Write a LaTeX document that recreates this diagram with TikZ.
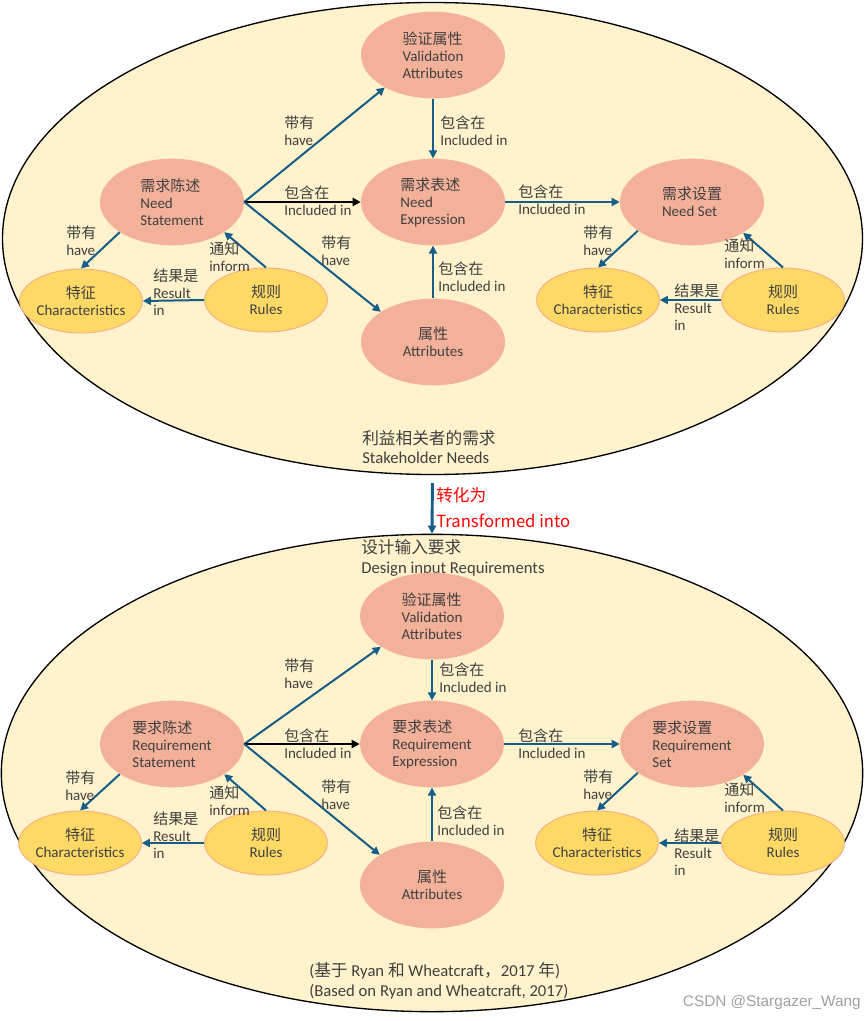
\documentclass[tikz,border=0pt]{standalone}
\usepackage{xcolor}
\usepackage{fontspec}
\setmainfont{Carlito}
\newfontfamily\zhfont{Noto Sans CJK SC}
\newfontfamily\markfont{Liberation Sans}
\newcommand\zh[1]{{\zhfont #1}}
\usepackage{tikz}
\usetikzlibrary{arrows.meta,shapes.geometric}

\definecolor{bgyellow}{RGB}{255,242,204}
\definecolor{needpink}{RGB}{244,177,154}
\definecolor{featyellow}{RGB}{255,217,102}
\definecolor{featedge}{RGB}{244,177,131}
\definecolor{linkblue}{RGB}{22,94,135}
\definecolor{txtgray}{RGB}{64,64,64}

\begin{document}
\begin{tikzpicture}[x=0.75pt,y=0.75pt,yscale=-1,xscale=1,
    bigell/.style={ellipse,draw=black,line width=1pt,fill=bgyellow,inner sep=0pt},
    needell/.style={ellipse,fill=needpink,inner sep=0pt,minimum width=108pt,minimum height=65pt,align=left,text=txtgray,font=\fontsize{11.25}{12.75}\selectfont},
    featell/.style={ellipse,draw=featedge,line width=0.75pt,fill=featyellow,inner xsep=-3pt,inner ysep=0pt,minimum width=92pt,minimum height=48pt,align=center,text=txtgray,font=\fontsize{11.25}{12.75}\selectfont},
    link/.style={draw=linkblue,line width=1.5pt,-{Triangle[length=6pt,width=6pt]}},
    linkbold/.style={draw=black,line width=2.2pt,-{Triangle[length=6pt,width=6pt]}},
    lbl/.style={anchor=west,inner sep=0.75pt,align=left,text=txtgray,font=\fontsize{11.25}{12.75}\selectfont},
    bigtxt/.style={anchor=west,inner sep=0.75pt,align=left,text=txtgray,font=\fontsize{12.5}{14.6}\selectfont}]

    \useasboundingbox (0,0) rectangle (865,1021);

    % outer ellipses
    \node[bigell,minimum width=645pt,minimum height=354pt] (sh) at (432.5,238.5) {};
    \node[bigell,minimum width=646pt,minimum height=358pt] (di) at (432,773) {};

    % stakeholder needs
    \node[needell] (va1) at (433,55) {\zh{验证属性}\\Validation\\Attributes};
    \node[needell] (ns1) at (172,202) {\zh{需求陈述}\\Need\\Statement};
    \node[needell] (ne1) at (433,202) {\zh{需求表述}\\Need\\Expression};
    \node[needell] (nset1) at (692,202) {\zh{需求设置}\\Need Set};
    \node[needell,align=center] (at1) at (433,342) {\zh{属性}\\Attributes};
    \node[featell] (cl1) at (81,301) {\zh{特征}\\Characteristics};
    \node[featell] (rl1) at (266,300) {\zh{规则}\\Rules};
    \node[featell] (cr1) at (598,300) {\zh{特征}\\Characteristics};
    \node[featell] (rr1) at (783,300) {\zh{规则}\\Rules};

    \draw[link] (ns1.east) -- (va1.-146);
    \draw[linkbold] (ns1.east) -- (ne1.west);
    \draw[link] (ns1.east) -- (at1.150);
    \draw[link] (va1.south) -- (ne1.north);
    \draw[link] (at1.north) -- (ne1.south);
    \draw[link] (ne1.east) -- (nset1.west);
    \draw[link] (ns1.-150) -- (cl1.north);
    \draw[link] (rl1.north) -- (ns1.-30);
    \draw[link] (rl1.west) -- (cl1.east);
    \draw[link] (nset1.-152) -- (cr1.north);
    \draw[link] (rr1.north) -- (nset1.-31);
    \draw[link] (rr1.west) -- (cr1.east);

    \node[lbl] (hv1) at (283,131) {\zh{带有}\\have};
    \node[lbl] (inc1) at (439,131) {\zh{包含在}\\Included in};
    \node[lbl] (inc2) at (283,201) {\zh{包含在}\\Included in};
    \node[lbl] (hv2) at (320,251) {\zh{带有}\\have};
    \node[lbl] (inc3) at (437,277) {\zh{包含在}\\Included in};
    \node[lbl] (inc4) at (517,200) {\zh{包含在}\\Included in};
    \node[lbl] (hv3) at (65,241) {\zh{带有}\\have};
    \node[lbl] (inf1) at (208,257) {\zh{通知}\\inform};
    \node[lbl] (res1) at (152,292) {\zh{结果是}\\Result\\in};
    \node[lbl] (hv4) at (582,241) {\zh{带有}\\have};
    \node[lbl] (inf2) at (723,254) {\zh{通知}\\inform};
    \node[lbl] (res2) at (673,307) {\zh{结果是}\\Result\\in};

    \node[bigtxt] (shtxt) at (361,447) {\zh{利益相关者的需求}\\Stakeholder Needs};

    % transformation
    \draw[draw=linkblue,line width=2.2pt,-{Triangle[length=6pt,width=6pt]},shorten <=6pt] (sh.south) -- (di.north);
    \node[anchor=west,inner sep=0.75pt,align=left,text=red,font=\zhfont\fontsize{12.5}{19.5}\selectfont] (trtxt) at (435,508) {转化为\\Transformed into};

    % design input requirements
    \node[bigtxt] (ditxt) at (360,558) {\zh{设计输入要求}\\Design input Requirements};

    \node[needell] (va2) at (432,616) {\zh{验证属性}\\Validation\\Attributes};
    \node[needell] (ns2) at (172,744) {\zh{要求陈述}\\Requirement\\Statement};
    \node[needell] (ne2) at (432,744) {\zh{要求表述}\\Requirement\\Expression};
    \node[needell] (nset2) at (692,744) {\zh{要求设置}\\Requirement\\Set};
    \node[needell,align=center] (at2) at (432,885) {\zh{属性}\\Attributes};
    \node[featell] (cl2) at (80,843) {\zh{特征}\\Characteristics};
    \node[featell] (rl2) at (266,843) {\zh{规则}\\Rules};
    \node[featell] (cr2) at (597,843) {\zh{特征}\\Characteristics};
    \node[featell] (rr2) at (783,843) {\zh{规则}\\Rules};

    \draw[link] (ns2.east) -- (va2.-149);
    \draw[linkbold] (ns2.east) -- (ne2.west);
    \draw[link] (ns2.east) -- (at2.150);
    \draw[link] (va2.south) -- (ne2.north);
    \draw[link] (at2.north) -- (ne2.south);
    \draw[link] (ne2.east) -- (nset2.west);
    \draw[link] (ns2.-150) -- (cl2.north);
    \draw[link] (rl2.north) -- (ns2.-30);
    \draw[link] (rl2.west) -- (cl2.east);
    \draw[link] (nset2.-152) -- (cr2.north);
    \draw[link] (rr2.north) -- (nset2.-31);
    \draw[link] (rr2.west) -- (cr2.east);

    \node[lbl] (hv5) at (283,674) {\zh{带有}\\have};
    \node[lbl] (inc5) at (438,678) {\zh{包含在}\\Included in};
    \node[lbl] (inc6) at (283,744) {\zh{包含在}\\Included in};
    \node[lbl] (hv6) at (320,795) {\zh{带有}\\have};
    \node[lbl] (inc7) at (436,821) {\zh{包含在}\\Included in};
    \node[lbl] (inc8) at (517,744) {\zh{包含在}\\Included in};
    \node[lbl] (hv7) at (64,786) {\zh{带有}\\have};
    \node[lbl] (inf3) at (208,801) {\zh{通知}\\inform};
    \node[lbl] (res3) at (152,835) {\zh{结果是}\\Result\\in};
    \node[lbl] (hv8) at (582,785) {\zh{带有}\\have};
    \node[lbl] (inf4) at (723,798) {\zh{通知}\\inform};
    \node[lbl] (res4) at (673,852) {\zh{结果是}\\Result\\in};

    \node[bigtxt] (srctxt) at (308,981) {(\zh{基于} Ryan \zh{和} Wheatcraft\zh{，}2017 \zh{年})\\(Based on Ryan and Wheatcraft, 2017)};

    \node[anchor=east,inner sep=0.75pt,text={rgb,255:red,160;green,160;blue,160},font=\markfont\fontsize{11.5}{13}\selectfont] (mark) at (862,1003) {CSDN @Stargazer\_Wang};
\end{tikzpicture}
\end{document}
